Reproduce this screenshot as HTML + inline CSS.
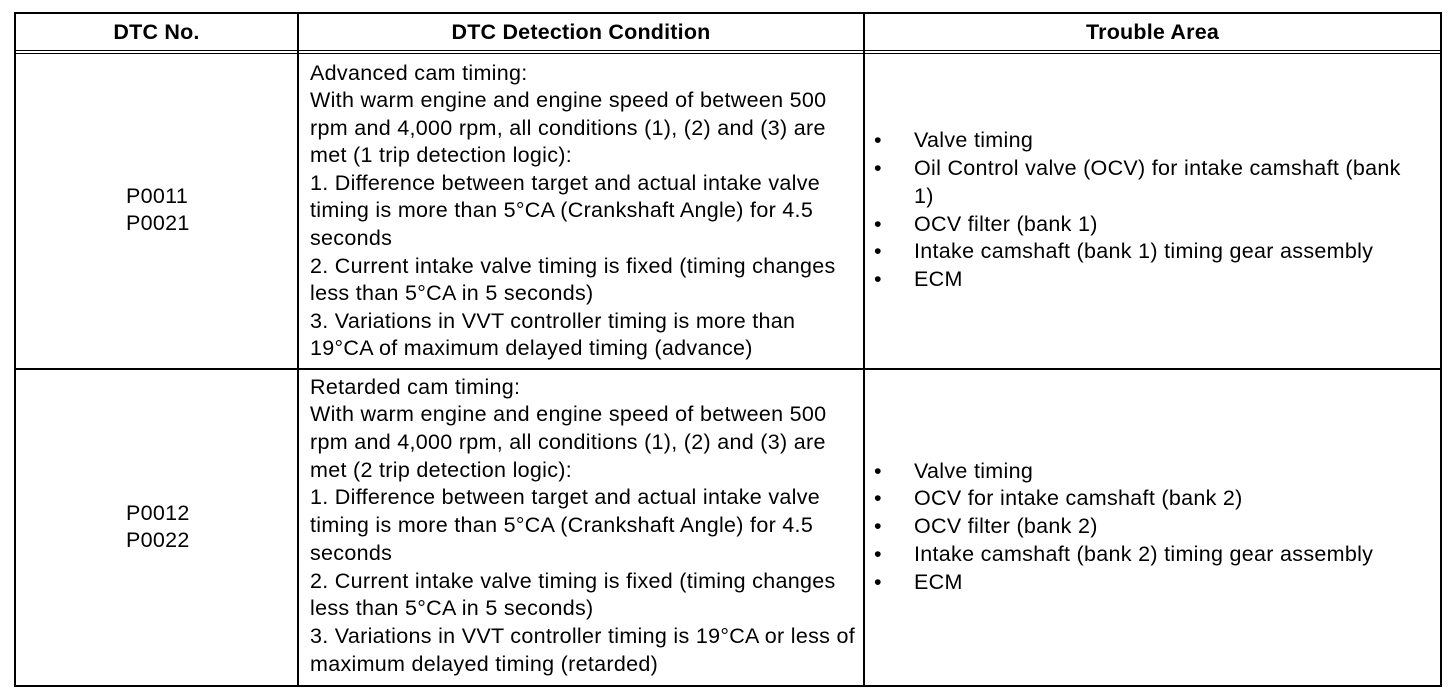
<!DOCTYPE html>
<html><head><style>
body{margin:0;width:1456px;height:696px;background:#fff;position:relative;font-family:"Liberation Sans",Arial,sans-serif;font-size:21.5px;letter-spacing:0.3px;color:#000;overflow:hidden}
.l{position:absolute;white-space:nowrap;line-height:28px;height:28px}
.b{position:absolute;background:#000}
.h{font-weight:bold;font-size:21.5px;letter-spacing:0.2px}
</style></head><body>
<div class="b" style="left:14px;top:12px;width:1428px;height:2px"></div>
<div class="b" style="left:14px;top:685px;width:1428px;height:2px"></div>
<div class="b" style="left:14px;top:12px;width:2px;height:675px"></div>
<div class="b" style="left:1440px;top:12px;width:2px;height:675px"></div>
<div class="b" style="left:297px;top:12px;width:2px;height:675px"></div>
<div class="b" style="left:863px;top:12px;width:2px;height:675px"></div>
<div class="b" style="left:14px;top:50px;width:1428px;height:1px"></div>
<div class="b" style="left:14px;top:53px;width:1428px;height:1px"></div>
<div class="b" style="left:14px;top:368px;width:1428px;height:2px"></div>

<div class="l h" style="left:16px;width:281px;text-align:center;top:18px">DTC No.</div>
<div class="l h" style="left:299px;width:564px;text-align:center;top:18px">DTC Detection Condition</div>
<div class="l h" style="left:865px;width:575px;text-align:center;top:18px">Trouble Area</div>

<div class="l" style="left:126px;top:182px">P0011</div>
<div class="l" style="left:126px;top:209px">P0021</div>
<div class="l" style="left:126px;top:499px">P0012</div>
<div class="l" style="left:126px;top:526px">P0022</div>

<div class="l" style="left:310px;top:59px">Advanced cam timing:</div>
<div class="l" style="left:310px;top:86px">With warm engine and engine speed of between 500</div>
<div class="l" style="left:310px;top:114px">rpm and 4,000 rpm, all conditions (1), (2) and (3) are</div>
<div class="l" style="left:310px;top:141px">met (1 trip detection logic):</div>
<div class="l" style="left:310px;top:169px">1. Difference between target and actual intake valve</div>
<div class="l" style="left:310px;top:196px">timing is more than 5°CA (Crankshaft Angle) for 4.5</div>
<div class="l" style="left:310px;top:224px">seconds</div>
<div class="l" style="left:310px;top:252px">2. Current intake valve timing is fixed (timing changes</div>
<div class="l" style="left:310px;top:279px">less than 5°CA in 5 seconds)</div>
<div class="l" style="left:310px;top:307px">3. Variations in VVT controller timing is more than</div>
<div class="l" style="left:310px;top:334px">19°CA of maximum delayed timing (advance)</div>

<div class="l" style="left:310px;top:373px">Retarded cam timing:</div>
<div class="l" style="left:310px;top:400px">With warm engine and engine speed of between 500</div>
<div class="l" style="left:310px;top:428px">rpm and 4,000 rpm, all conditions (1), (2) and (3) are</div>
<div class="l" style="left:310px;top:456px">met (2 trip detection logic):</div>
<div class="l" style="left:310px;top:483px">1. Difference between target and actual intake valve</div>
<div class="l" style="left:310px;top:511px">timing is more than 5°CA (Crankshaft Angle) for 4.5</div>
<div class="l" style="left:310px;top:539px">seconds</div>
<div class="l" style="left:310px;top:567px">2. Current intake valve timing is fixed (timing changes</div>
<div class="l" style="left:310px;top:594px">less than 5°CA in 5 seconds)</div>
<div class="l" style="left:310px;top:622px">3. Variations in VVT controller timing is 19°CA or less of</div>
<div class="l" style="left:310px;top:650px">maximum delayed timing (retarded)</div>

<div class="l" style="left:874px;top:126px">•</div><div class="l" style="left:914px;top:126px">Valve timing</div>
<div class="l" style="left:874px;top:154px">•</div><div class="l" style="left:914px;top:154px">Oil Control valve (OCV) for intake camshaft (bank</div>
<div class="l" style="left:914px;top:182px">1)</div>
<div class="l" style="left:874px;top:210px">•</div><div class="l" style="left:914px;top:210px">OCV filter (bank 1)</div>
<div class="l" style="left:874px;top:237px">•</div><div class="l" style="left:914px;top:237px">Intake camshaft (bank 1) timing gear assembly</div>
<div class="l" style="left:874px;top:265px">•</div><div class="l" style="left:914px;top:265px">ECM</div>

<div class="l" style="left:874px;top:457px">•</div><div class="l" style="left:914px;top:457px">Valve timing</div>
<div class="l" style="left:874px;top:484px">•</div><div class="l" style="left:914px;top:484px">OCV for intake camshaft (bank 2)</div>
<div class="l" style="left:874px;top:512px">•</div><div class="l" style="left:914px;top:512px">OCV filter (bank 2)</div>
<div class="l" style="left:874px;top:540px">•</div><div class="l" style="left:914px;top:540px">Intake camshaft (bank 2) timing gear assembly</div>
<div class="l" style="left:874px;top:568px">•</div><div class="l" style="left:914px;top:568px">ECM</div>
</body></html>
